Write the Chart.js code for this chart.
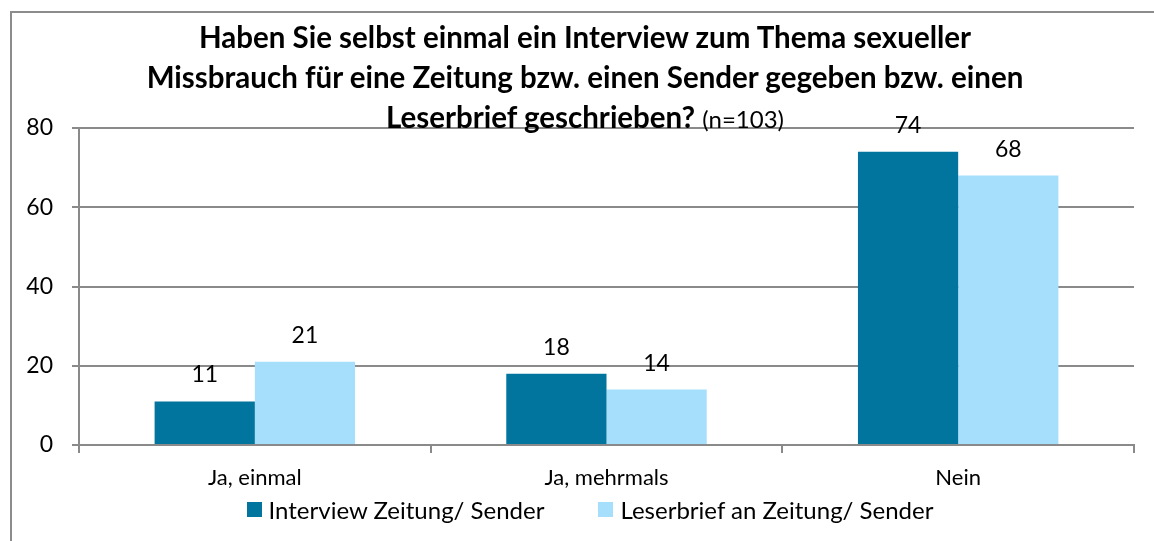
<!DOCTYPE html>
<html lang="de">
<head>
    <meta charset="UTF-8">
    <title>Interview / Leserbrief</title>
    <style>
        body { margin: 0; background: #fff; }
        .wrap { position: relative; width: 1154px; height: 541px; overflow: hidden; }
        .frame {
            position: absolute; left: 10px; top: 11px; width: 1300px; height: 700px;
            border-top: 2px solid #8c8c8c; border-left: 2px solid #8c8c8c;
        }
        #chartTitle {
            position: absolute; left: 0; top: 17px; width: 1170px;
            text-align: center; font-family: Lato, sans-serif; font-weight: bold;
            font-size: 29.5px; line-height: 40px; color: #000;
        }
        #chartTitle .n { font-weight: normal; font-size: 24px; }
        #chartLegend {
            position: absolute; left: 0; top: 494px; width: 1180px; height: 30px;
            display: flex; justify-content: center; align-items: center;
            font-family: Lato, sans-serif; font-size: 24px; color: #000;
        }
        #chartLegend .item { display: flex; align-items: center; margin: 0 27px; }
        #chartLegend .box { width: 15px; height: 15px; margin-right: 7px; }
        canvas { position: absolute; left: 0; top: 0; }
    </style>
</head>
<body>
    <div class="wrap">
        <div class="frame"></div>
        <canvas id="interviewChart" width="1154" height="541"></canvas>
        <div id="chartTitle">
            Haben Sie selbst einmal ein Interview zum Thema sexueller<br>
            Missbrauch für eine Zeitung bzw. einen Sender gegeben bzw. einen<br>
            Leserbrief geschrieben? <span class="n">(n=103)</span>
        </div>
        <div id="chartLegend"></div>
    </div>

    <script src="https://cdn.jsdelivr.net/npm/chart.js"></script>
    <script>
        // categories and values
        const categories = ['Ja, einmal', 'Ja, mehrmals', 'Nein'];
        const interviewValues = [11, 18, 74];
        const leserbriefValues = [21, 14, 68];
        const seriesNames = ['Interview Zeitung/ Sender', 'Leserbrief an Zeitung/ Sender'];
        const seriesColors = ['#01759e', '#a6dffb'];
        const yTicks = [0, 20, 40, 60, 80];

        const FONT = 'Lato, sans-serif';
        const GRID = '#8a8a8a';

        // value labels above each bar
        const valueLabels = {
            id: 'valueLabels',
            afterDatasetsDraw(chart) {
                const ctx = chart.ctx;
                ctx.save();
                ctx.font = '23px ' + FONT;
                ctx.fillStyle = '#000';
                ctx.textAlign = 'center';
                ctx.textBaseline = 'alphabetic';
                chart.data.datasets.forEach((ds, i) => {
                    chart.getDatasetMeta(i).data.forEach((bar, j) => {
                        ctx.fillText(ds.data[j], bar.x, bar.y - 19);
                    });
                });
                ctx.restore();
            }
        };

        const chart = new Chart(document.getElementById('interviewChart'), {
            type: 'bar',
            data: {
                labels: categories,
                datasets: [
                    { label: seriesNames[0], data: interviewValues, backgroundColor: seriesColors[0] },
                    { label: seriesNames[1], data: leserbriefValues, backgroundColor: seriesColors[1] }
                ]
            },
            options: {
                responsive: false,
                animation: false,
                categoryPercentage: 0.57,
                barPercentage: 1,
                layout: { padding: { top: 128, right: 20, bottom: 0, left: 0 } },
                plugins: {
                    tooltip: { enabled: false },
                    legend: { display: false }
                },
                scales: {
                    x: {
                        grid: { drawOnChartArea: false, color: GRID, lineWidth: 2, tickLength: 8 },
                        border: { color: GRID, width: 2 },
                        ticks: { font: { family: FONT, size: 22 }, color: '#000', padding: 12 },
                        afterFit(scale) { scale.height = 96; }
                    },
                    y: {
                        min: 0,
                        max: 80,
                        afterBuildTicks(scale) { scale.ticks = yTicks.map(v => ({ value: v })); },
                        grid: { color: GRID, lineWidth: 2, tickLength: 7 },
                        border: { color: GRID, width: 2 },
                        ticks: { font: { family: FONT, size: 23 }, color: '#000', padding: 19 },
                        afterFit(scale) { scale.width = 79; }
                    }
                }
            },
            plugins: [valueLabels]
        });

        // legend built from the chart's datasets
        const legendEl = document.getElementById('chartLegend');
        chart.data.datasets.forEach(ds => {
            const item = document.createElement('div');
            item.className = 'item';
            const box = document.createElement('span');
            box.className = 'box';
            box.style.background = ds.backgroundColor;
            const text = document.createElement('span');
            text.textContent = ds.label;
            item.appendChild(box);
            item.appendChild(text);
            legendEl.appendChild(item);
        });
    </script>
</body>
</html>
